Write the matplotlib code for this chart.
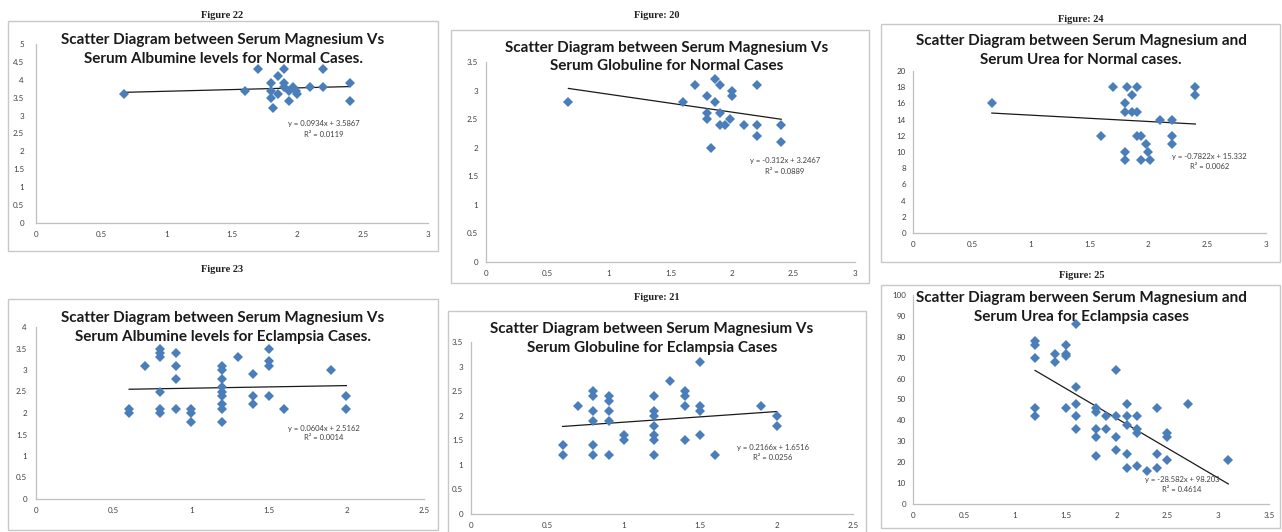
import matplotlib
matplotlib.use("Agg")
import matplotlib.pyplot as plt
from matplotlib.patches import Rectangle
import numpy as np

W, H = 1282, 532

# ---------------- data ----------------
# Figure 22: Serum Mg vs Serum Albumine, normal cases
fig22_x = [0.67, 1.6, 1.7, 1.8, 1.8, 1.8, 1.81, 1.85, 1.85, 1.9, 1.9, 1.9,
           1.94, 1.94, 1.97, 1.99, 2.0, 2.1, 2.2, 2.2, 2.4, 2.4]
fig22_y = [3.6, 3.7, 4.3, 3.9, 3.7, 3.5, 3.2, 4.1, 3.6, 4.3, 3.9, 3.8,
           3.7, 3.4, 3.8, 3.7, 3.6, 3.8, 4.3, 3.8, 3.9, 3.4]
fig22_fit = (0.0934, 3.5867)
fig22_eq = ["y = 0.0934x + 3.5867", "R² = 0.0119"]

# Figure 23: Serum Mg vs Serum Albumine, eclampsia cases
fig23_x = [0.6, 0.6, 0.7, 0.8, 0.8, 0.8, 0.8, 0.8, 0.8, 0.9, 0.9, 0.9, 0.9,
           1.0, 1.0, 1.0, 1.2, 1.2, 1.2, 1.2, 1.2, 1.2, 1.2, 1.2, 1.2, 1.3,
           1.4, 1.4, 1.4, 1.5, 1.5, 1.5, 1.5, 1.6, 1.9, 2.0, 2.0]
fig23_y = [2.1, 2.0, 3.1, 3.5, 3.4, 3.3, 2.5, 2.1, 2.0, 3.4, 3.1, 2.8, 2.1,
           2.1, 2.0, 1.8, 3.1, 3.0, 2.8, 2.6, 2.5, 2.4, 2.2, 2.1, 1.8, 3.3,
           2.9, 2.4, 2.2, 3.5, 3.2, 3.1, 2.4, 2.1, 3.0, 2.4, 2.1]
fig23_fit = (0.0604, 2.5162)
fig23_eq = ["y = 0.0604x + 2.5162", "R² = 0.0014"]

# Figure 20: Serum Mg vs Serum Globuline, normal cases
fig20_x = [0.67, 1.6, 1.7, 1.8, 1.8, 1.8, 1.83, 1.86, 1.86, 1.9, 1.9, 1.9,
           1.94, 1.98, 2.0, 2.0, 2.1, 2.2, 2.2, 2.2, 2.4, 2.4]
fig20_y = [2.8, 2.8, 3.1, 2.9, 2.6, 2.5, 2.0, 3.2, 2.8, 3.1, 2.6, 2.4,
           2.4, 2.5, 2.9, 3.0, 2.4, 3.1, 2.4, 2.2, 2.4, 2.1]
fig20_fit = (-0.312, 3.2467)
fig20_eq = ["y = -0.312x + 3.2467", "R² = 0.0889"]

# Figure 21: Serum Mg vs Serum Globuline, eclampsia cases
fig21_x = [0.6, 0.6, 0.7, 0.8, 0.8, 0.8, 0.8, 0.8, 0.8, 0.9, 0.9, 0.9, 0.9,
           0.9, 1.0, 1.0, 1.2, 1.2, 1.2, 1.2, 1.2, 1.2, 1.2, 1.3, 1.4, 1.4,
           1.4, 1.4, 1.5, 1.5, 1.5, 1.5, 1.6, 1.9, 2.0, 2.0]
fig21_y = [1.4, 1.2, 2.2, 2.5, 2.4, 2.1, 1.9, 1.4, 1.2, 2.4, 2.3, 2.1, 1.9,
           1.2, 1.6, 1.5, 2.4, 2.1, 2.0, 1.8, 1.6, 1.5, 1.2, 2.7, 2.5, 2.4,
           2.2, 1.5, 3.1, 2.2, 2.1, 1.6, 1.2, 2.2, 2.0, 1.8]
fig21_fit = (0.2166, 1.6516)
fig21_eq = ["y = 0.2166x + 1.6516", "R² = 0.0256"]

# Figure 24: Serum Mg vs Serum Urea, normal cases
fig24_x = [0.67, 1.6, 1.7, 1.8, 1.8, 1.8, 1.8, 1.82, 1.86, 1.86, 1.9, 1.9,
           1.9, 1.94, 1.94, 1.98, 2.0, 2.01, 2.1, 2.2, 2.2, 2.2, 2.4, 2.4]
fig24_y = [16, 12, 18, 16, 15, 10, 9, 18, 17, 15, 18, 15,
           12, 12, 9, 11, 10, 9, 14, 14, 12, 11, 18, 17]
fig24_fit = (-0.7822, 15.332)
fig24_eq = ["y = -0.7822x + 15.332", "R² = 0.0062"]

# Figure 25: Serum Mg vs Serum Urea, eclampsia cases
fig25_x = [1.2, 1.2, 1.2, 1.2, 1.2, 1.4, 1.4, 1.5, 1.5, 1.5, 1.5,
           1.6, 1.6, 1.6, 1.6, 1.6, 1.8, 1.8, 1.8, 1.8, 1.8, 1.9, 1.9,
           2.0, 2.0, 2.0, 2.0, 2.1, 2.1, 2.1, 2.1, 2.1, 2.2, 2.2, 2.2, 2.2,
           2.3, 2.4, 2.4, 2.4, 2.5, 2.5, 2.5, 2.7, 3.1]
fig25_y = [78, 76, 70, 46, 42, 72, 68, 76, 72, 71, 46,
           86, 56, 48, 42, 36, 46, 44, 36, 32, 23, 42, 36,
           64, 42, 32, 26, 48, 42, 38, 24, 17, 42, 36, 34, 18,
           16, 46, 24, 17, 34, 32, 21, 48, 21]
fig25_fit = (-28.582, 98.203)
fig25_eq = ["y = -28.582x + 98.203", "R² = 0.4614"]

figure_labels = ["Figure 22", "Figure 23", "Figure: 20", "Figure: 21", "Figure: 24", "Figure: 25"]
titles = [
    "Scatter Diagram between Serum Magnesium Vs\nSerum Albumine levels for Normal Cases.",
    "Scatter Diagram between Serum Magnesium Vs\nSerum Albumine levels for Eclampsia Cases.",
    "Scatter Diagram between Serum Magnesium Vs\nSerum Globuline for Normal Cases",
    "Scatter Diagram between Serum Magnesium Vs\nSerum Globuline for Eclampsia Cases",
    "Scatter Diagram between Serum Magnesium and\nSerum Urea for Normal cases.",
    "Scatter Diagram berween Serum Magnesium and\nSerum Urea for Eclampsia cases",
]

# ---------------- layout ----------------
panels = [
    dict(x=fig22_x, y=fig22_y, fit=fig22_fit, eq=fig22_eq,
         ax=(36, 44, 428, 223), box=(8, 21, 438, 251), xl=(0, 3), yl=(0, 5), ys=0.5,
         lab=(222, 15), tit=(223, 49.5), eqpos=(2.20, 2.79, 2.46), ypad=12),
    dict(x=fig23_x, y=fig23_y, fit=fig23_fit, eq=fig23_eq,
         ax=(36, 327, 424, 499), box=(8, 299, 438, 530), xl=(0, 2.5), yl=(0, 4), ys=0.5,
         lab=(222, 269), tit=(223, 327.5), eqpos=(1.856, 1.65, 1.42), ypad=9),
    dict(x=fig20_x, y=fig20_y, fit=fig20_fit, eq=fig20_eq,
         ax=(486, 62, 855, 262), box=(451, 30, 869, 283), xl=(0, 3), yl=(0, 3.5), ys=0.5,
         lab=(657, 15), tit=(667, 57), eqpos=(2.43, 1.77, 1.575), ypad=8),
    dict(x=fig21_x, y=fig21_y, fit=fig21_fit, eq=fig21_eq,
         ax=(471, 342, 853, 514), box=(448, 311, 866, 536), xl=(0, 2.5), yl=(0, 3.5), ys=0.5,
         lab=(657, 298), tit=(652, 338.5), eqpos=(1.976, 1.36, 1.14), ypad=8),
    dict(x=fig24_x, y=fig24_y, fit=fig24_fit, eq=fig24_eq,
         ax=(913, 71, 1266, 233), box=(881, 24, 1280, 262), xl=(0, 3), yl=(0, 20), ys=2,
         lab=(1081, 19), tit=(1081, 50.5), eqpos=(2.52, 9.5, 8.27), ypad=7),
    dict(x=fig25_x, y=fig25_y, fit=fig25_fit, eq=fig25_eq,
         ax=(913, 295, 1269, 504), box=(881, 285, 1280, 528), xl=(0, 3.5), yl=(0, 100), ys=10,
         lab=(1082, 276), tit=(1081, 307.5), eqpos=(2.645, 11.5, 6.7), ypad=7),
]

fig = plt.figure(figsize=(W / 100, H / 100), dpi=100)
fig.patch.set_facecolor("white")

def fx(px):
    return px / W

def fy(py):
    return 1 - py / H

MARK = "#4A7EBB"
GRID = "#BFBFBF"
TXT = "#404040"

for i, p in enumerate(panels):
    bx0, by0, bx1, by1 = p["box"]
    fig.patches.append(Rectangle((fx(bx0), fy(by1)), fx(bx1) - fx(bx0), fy(by0) - fy(by1),
                                 transform=fig.transFigure, fill=False,
                                 edgecolor="#C8C8C8", linewidth=1.0, zorder=0))
    l, t, r, b = p["ax"]
    ax = fig.add_axes([fx(l), fy(b), fx(r) - fx(l), fy(t) - fy(b)])
    ax.set_facecolor("none")
    ax.set_xlim(*p["xl"])
    ax.set_ylim(*p["yl"])
    ax.set_xticks(np.arange(p["xl"][0], p["xl"][1] + 1e-9, 0.5))
    ax.set_yticks(np.arange(p["yl"][0], p["yl"][1] + 1e-9, p["ys"]))
    ax.xaxis.set_major_formatter(matplotlib.ticker.FormatStrFormatter("%g"))
    ax.yaxis.set_major_formatter(matplotlib.ticker.FormatStrFormatter("%g"))
    for s in ("top", "right"):
        ax.spines[s].set_visible(False)
    for s in ("left", "bottom"):
        ax.spines[s].set_color(GRID)
        ax.spines[s].set_linewidth(0.9)
    ax.tick_params(length=0, labelsize=5.8, labelcolor=TXT)
    ax.tick_params(axis="x", pad=6)
    ax.tick_params(axis="y", pad=p["ypad"] * 0.72)
    for lbl in ax.get_xticklabels() + ax.get_yticklabels():
        lbl.set_family("Lato")

    ax.plot(p["x"], p["y"], linestyle="none", marker="D", markersize=5.0,
            color=MARK, markeredgewidth=0, clip_on=False, zorder=3)
    m, c = p["fit"]
    xs = np.array([min(p["x"]), max(p["x"])])
    ax.plot(xs, m * xs + c, color="#1a1a1a", linewidth=0.9, zorder=2)

    ex, ey1, ey2 = p["eqpos"]
    ax.text(ex, ey1, p["eq"][0], ha="center", va="center", fontsize=5.5,
            color=TXT, family="Lato")
    ax.text(ex, ey2, p["eq"][1], ha="center", va="center", fontsize=5.5,
            color=TXT, family="Lato")

    lx, ly = p["lab"]
    fig.text(fx(lx), fy(ly), figure_labels[i], ha="center", va="center",
             fontsize=7.5, fontweight="bold", family="Liberation Serif", color="#222222")
    tx, ty = p["tit"]
    fig.text(fx(tx), fy(ty), titles[i], ha="center", va="center", fontsize=11,
             fontweight="bold", family="Lato", color="#1a1a1a", linespacing=1.38)

fig.savefig("out.png", dpi=100, facecolor="white")
